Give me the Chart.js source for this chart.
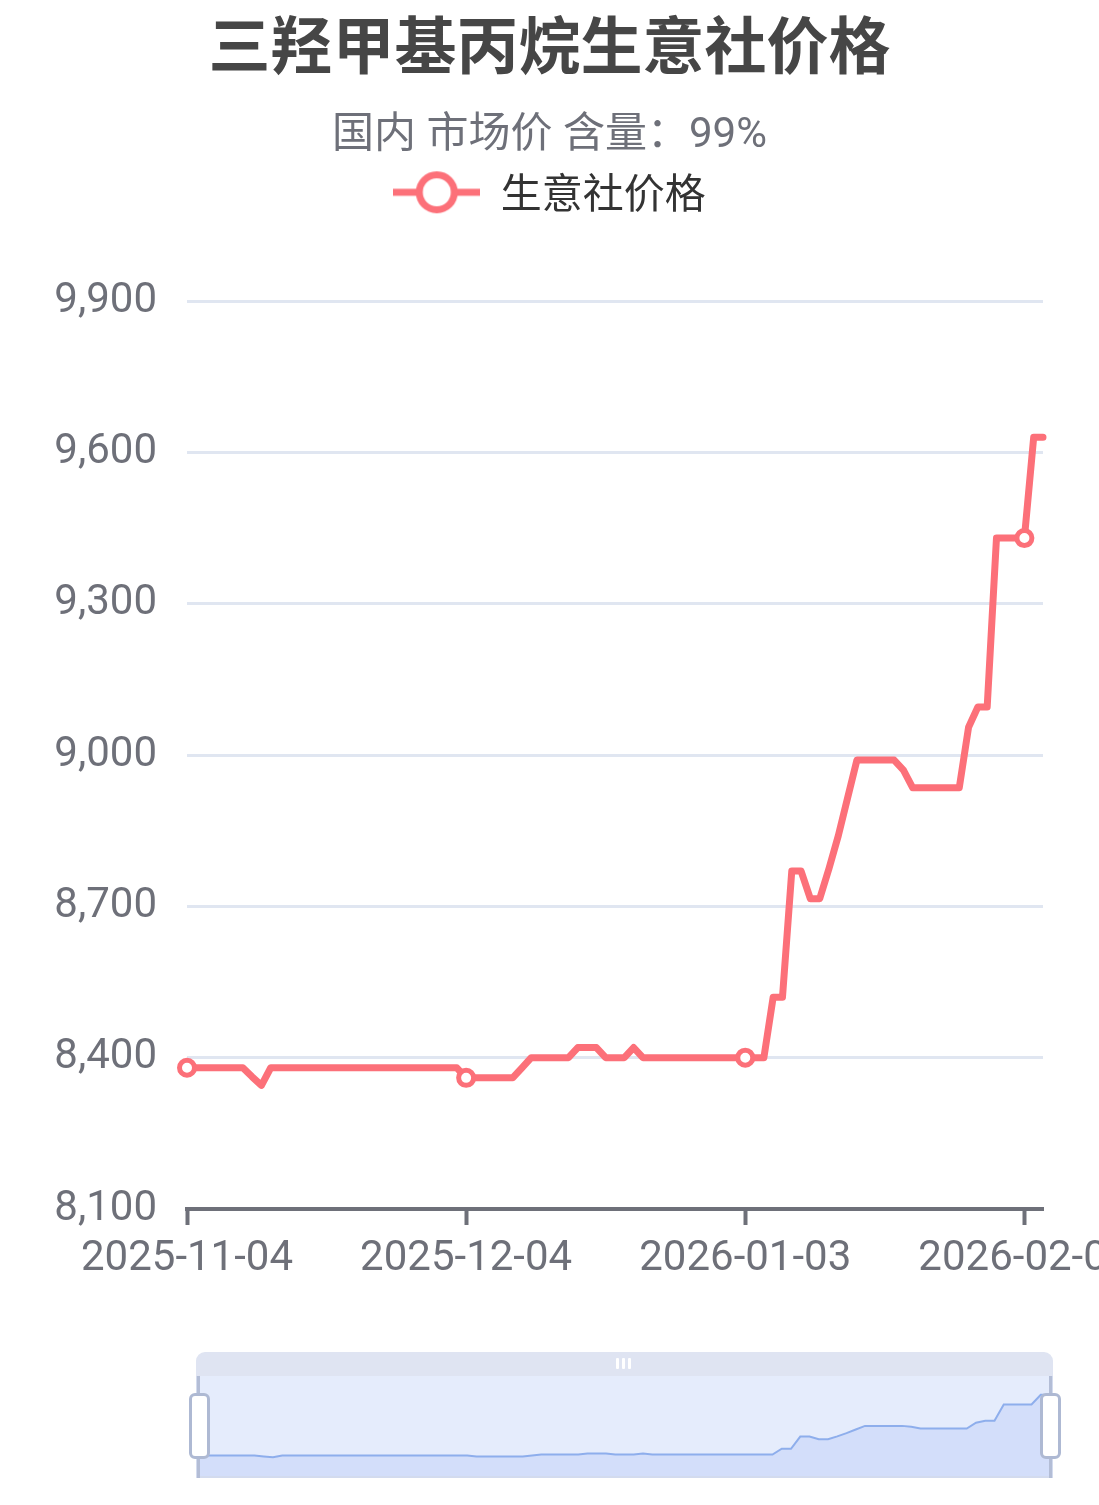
<!DOCTYPE html>
<html>
<head>
<meta charset="utf-8">
<script src="https://cdn.jsdelivr.net/npm/chart.js@4.4.1/dist/chart.umd.min.js"></script>
<style>
html,body{margin:0;padding:0;background:#fff;overflow:hidden;width:1099px;height:1505px;}
#wrap{position:relative;width:1099px;height:1505px;}
#main{position:absolute;left:0;top:0;display:block;}
.dz{position:absolute;box-sizing:border-box;}
</style>
</head>
<body>
<div id="wrap">
  <canvas id="main" width="1099" height="1505"></canvas>
  <!-- data zoom slider -->
  <div class="dz" style="left:196px;top:1352px;width:857px;height:24px;background:#dfe4f2;border-radius:9px 9px 0 0;"></div>
  <div class="dz" style="left:616px;top:1358px;width:3px;height:11px;background:#fff;border-radius:1px;"></div>
  <div class="dz" style="left:622px;top:1358px;width:3px;height:11px;background:#fff;border-radius:1px;"></div>
  <div class="dz" style="left:628px;top:1358px;width:3px;height:11px;background:#fff;border-radius:1px;"></div>
  <div class="dz" style="left:196px;top:1376px;width:857px;height:102px;background:#e5ecfc;border:2px solid #d3dbee;border-top:none;"></div>
  <canvas id="mini" class="dz" width="851" height="100" style="left:199px;top:1376px;"></canvas>
  <div class="dz" style="left:197px;top:1376px;width:3px;height:102px;background:#b3bdd6;"></div>
  <div class="dz" style="left:1049px;top:1376px;width:3px;height:102px;background:#b3bdd6;"></div>
  <div class="dz" style="left:189px;top:1393px;width:21px;height:66px;background:#fff;border:3px solid #aeb9d3;border-radius:6px;"></div>
  <div class="dz" style="left:1040px;top:1393px;width:21px;height:66px;background:#fff;border:3px solid #aeb9d3;border-radius:6px;"></div>
</div>
<script>
// ---------- data ----------
const TITLE = '三羟甲基丙烷生意社价格';
const SUBTITLE = '国内 市场价 含量：99%';
const SERIES_NAME = '生意社价格';

const dates = [
  '2025-11-04','2025-11-05','2025-11-06','2025-11-07','2025-11-08','2025-11-09','2025-11-10',
  '2025-11-11','2025-11-12','2025-11-13','2025-11-14','2025-11-15','2025-11-16','2025-11-17',
  '2025-11-18','2025-11-19','2025-11-20','2025-11-21','2025-11-22','2025-11-23','2025-11-24',
  '2025-11-25','2025-11-26','2025-11-27','2025-11-28','2025-11-29','2025-11-30',
  '2025-12-01','2025-12-02','2025-12-03','2025-12-04','2025-12-05','2025-12-06','2025-12-07',
  '2025-12-08','2025-12-09','2025-12-10','2025-12-11','2025-12-12','2025-12-13','2025-12-14',
  '2025-12-15','2025-12-16','2025-12-17','2025-12-18','2025-12-19','2025-12-20','2025-12-21',
  '2025-12-22','2025-12-23','2025-12-24','2025-12-25','2025-12-26','2025-12-27','2025-12-28',
  '2025-12-29','2025-12-30','2025-12-31',
  '2026-01-01','2026-01-02','2026-01-03','2026-01-04','2026-01-05','2026-01-06','2026-01-07',
  '2026-01-08','2026-01-09','2026-01-10','2026-01-11','2026-01-12','2026-01-13','2026-01-14',
  '2026-01-15','2026-01-16','2026-01-17','2026-01-18','2026-01-19','2026-01-20','2026-01-21',
  '2026-01-22','2026-01-23','2026-01-24','2026-01-25','2026-01-26','2026-01-27','2026-01-28',
  '2026-01-29','2026-01-30','2026-01-31',
  '2026-02-01','2026-02-02','2026-02-03','2026-02-04'
];

const prices = [
  8380,8380,8380,8380,8380,8380,8380,8362,8345,
  8380,8380,8380,8380,8380,8380,8380,8380,8380,8380,8380,
  8380,8380,8380,8380,8380,8380,8380,8380,8380,8380,
  8360,8360,8360,8360,8360,8360,
  8380,
  8400,8400,8400,8400,8400,
  8420,8420,8420,
  8400,8400,8400,
  8420,
  8400,8400,8400,8400,8400,8400,8400,8400,8400,8400,8400,8400,8400,8400,
  8520,8520,8770,8770,8715,8715,8775,8840,8915,
  8990,8990,8990,8990,8990,8970,
  8935,8935,8935,8935,8935,8935,
  9055,9095,9095,
  9430,9430,9430,9430,
  9630,9630
];

const Y_MIN = 8100, Y_MAX = 9900, Y_STEP = 300;
const LABEL_EVERY = 30;

// ---------- style ----------
const RED = 'rgb(252,112,121)';
const AXIS = '#6E7079';
const GRID = '#E0E6F1';
const CJK = "'Noto Sans CJK SC', sans-serif";
const LATIN = "Roboto, 'Noto Sans CJK SC', sans-serif";
const CHART_TOP = 301;

// legend icon: line with hollow circle
const icon = document.createElement('canvas');
icon.width = 87; icon.height = 44;
(function(){
  const c = icon.getContext('2d');
  c.strokeStyle = RED; c.lineWidth = 7;
  c.beginPath(); c.moveTo(0, 22); c.lineTo(87, 22); c.stroke();
  c.beginPath(); c.arc(43.5, 22, 17.5, 0, Math.PI * 2);
  c.fillStyle = '#fff'; c.fill(); c.stroke();
})();

// empty layout box creating the gap between legend and plot
const gapPlugin = {
  id: 'legendGap',
  beforeInit(chart) {
    const box = {
      chart: chart, position: 'top', weight: 1, fullSize: true, options: {},
      top: 0, bottom: 0, left: 0, right: 0, width: 0, height: 0,
      isHorizontal() { return true; },
      getPadding() { return {top: 0, left: 0, right: 0, bottom: 0}; },
      update(maxWidth) {
        let used = 0;
        for (const b of this.chart.boxes) {
          if (b !== this && b.position === 'top' && b.fullSize) used += (b.height || 0);
        }
        this.width = maxWidth;
        this.height = Math.max(0, CHART_TOP - used);
      },
      draw() {}
    };
    Chart.layouts.addBox(chart, box);
  }
};

new Chart(document.getElementById('main'), {
  type: 'line',
  data: {
    labels: dates,
    datasets: [{
      label: SERIES_NAME,
      data: prices,
      borderColor: RED,
      backgroundColor: RED,
      borderWidth: 7,
      fill: false,
      tension: 0,
      borderJoinStyle: 'round',
      borderCapStyle: 'round',
      pointRadius: ctx => (ctx.dataIndex % LABEL_EVERY === 0 ? 7.5 : 0),
      pointHoverRadius: ctx => (ctx.dataIndex % LABEL_EVERY === 0 ? 7.5 : 0),
      pointBackgroundColor: '#fff',
      pointBorderColor: RED,
      pointBorderWidth: 5,
      clip: false
    }]
  },
  plugins: [gapPlugin],
  options: {
    responsive: false,
    devicePixelRatio: 1,
    animation: false,
    events: [],
    layout: { padding: 0 },
    plugins: {
      tooltip: { enabled: false },
      title: {
        display: true, text: TITLE, color: '#464646',
        font: { family: CJK, size: 62, weight: 'bold' },
        padding: { top: 8, bottom: 0 }
      },
      subtitle: {
        display: true, text: SUBTITLE, color: AXIS,
        font: { family: LATIN, size: 42 },
        padding: { top: 29, bottom: 0 }
      },
      legend: {
        display: true, position: 'top',
        labels: {
          usePointStyle: true, pointStyle: icon, pointStyleWidth: 87,
          padding: 10, color: '#333',
          font: { family: CJK, size: 41 }
        }
      }
    },
    scales: {
      x: {
        type: 'category',
        offset: false,
        grid: {
          display: true, drawOnChartArea: false, drawTicks: true,
          tickLength: 16, tickWidth: 4,
          tickColor: ctx => (ctx.index % LABEL_EVERY === 0 ? AXIS : 'rgba(0,0,0,0)')
        },
        border: { display: true, color: AXIS, width: 4 },
        ticks: {
          autoSkip: false, maxRotation: 0, minRotation: 0, padding: 9,
          color: AXIS, font: { family: LATIN, size: 42 },
          callback: function(v, i) { return i % LABEL_EVERY === 0 ? this.getLabelForValue(v) : ''; }
        },
        afterFit(s) { s.paddingLeft = 0; s.paddingRight = 56; s.height = 296; }
      },
      y: {
        min: Y_MIN, max: Y_MAX,
        ticks: {
          stepSize: Y_STEP, padding: 30, color: AXIS,
          font: { family: LATIN, size: 42 },
          callback: v => Number(v).toLocaleString('en-US')
        },
        grid: {
          drawTicks: false, lineWidth: 3,
          color: ctx => (ctx.tick && ctx.tick.value === Y_MIN ? 'rgba(0,0,0,0)' : GRID)
        },
        border: { display: false },
        afterFit(s) { s.width = 187; }
      }
    }
  }
});

// data-zoom shadow chart
const pMin = Math.min(...prices), pMax = Math.max(...prices);
const pPad = (pMax - pMin) * 0.3;
new Chart(document.getElementById('mini'), {
  type: 'line',
  data: {
    labels: dates,
    datasets: [{
      data: prices,
      borderColor: '#8eaeec',
      borderWidth: 2,
      backgroundColor: '#d3defa',
      fill: 'start',
      pointRadius: 0,
      tension: 0
    }]
  },
  options: {
    responsive: false,
    devicePixelRatio: 1,
    animation: false,
    events: [],
    layout: { padding: 0 },
    plugins: { legend: { display: false }, tooltip: { enabled: false }, title: { display: false } },
    scales: {
      x: { display: false, offset: false },
      y: { display: false, min: pMin - pPad, max: pMax + pPad }
    }
  }
});
</script>
</body>
</html>
